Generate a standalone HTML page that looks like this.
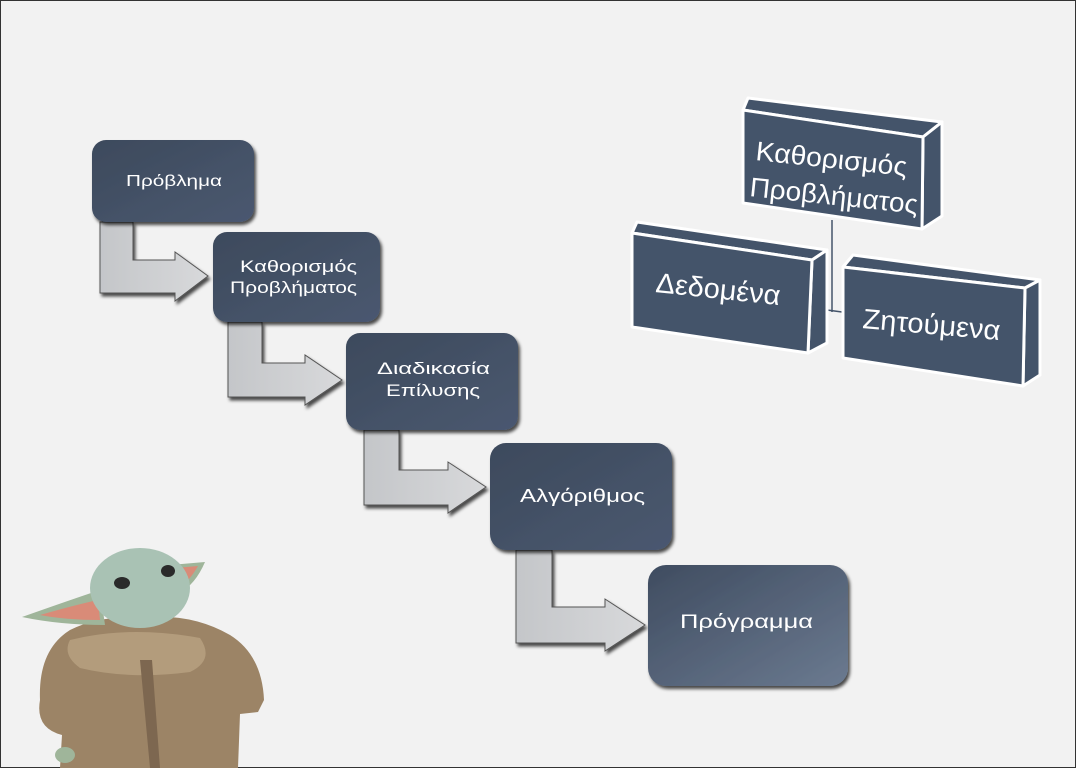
<!DOCTYPE html>
<html><head><meta charset="utf-8"><style>
html,body{margin:0;padding:0;background:#f2f2f2}
svg{display:block}
text{font-family:"Liberation Sans","DejaVu Sans",sans-serif;fill:#fff}
</style></head><body>
<svg width="1076" height="768" viewBox="0 0 1076 768" xmlns="http://www.w3.org/2000/svg">
<defs>
<linearGradient id="bx" x1="0" y1="0" x2="1" y2="1"><stop offset="0" stop-color="#3d4a5c"/><stop offset="1" stop-color="#4a5870"/></linearGradient>
<linearGradient id="bx2" x1="0" y1="0" x2="1" y2="1"><stop offset="0" stop-color="#3f4c60"/><stop offset="1" stop-color="#6b7a90"/></linearGradient>
<linearGradient id="ar" x1="0" y1="0" x2="1" y2="0"><stop offset="0" stop-color="#c4c6c9"/><stop offset="1" stop-color="#d8d9db"/></linearGradient>
<filter id="sh" x="-10%" y="-10%" width="130%" height="130%"><feDropShadow dx="2" dy="3" stdDeviation="1.5" flood-color="#000" flood-opacity="0.7"/></filter>
</defs>
<rect x="0.5" y="0.5" width="1075" height="767" fill="#f2f2f2" stroke="#333" stroke-width="1"/>

<g fill="url(#ar)" stroke="#555" stroke-width="1" filter="url(#sh)">
<path d="M100 222 H133 V260 H175 V252 L208 276 L175 301 V293 H100 Z"/>
<path d="M228 322 H262 V363 H305 V355 L342 380 L305 405 V397 H228 Z"/>
<path d="M364 430 H399 V470 H448 V462 L486 487 L448 513 V505 H364 Z"/>
<path d="M516 550 H552 V607 H605 V599 L645 625 L605 651 V643 H516 Z"/>
</g>

<g filter="url(#sh)">
<rect x="92" y="140" width="162" height="82" rx="14" fill="url(#bx)"/>
<rect x="213" y="232" width="167" height="90" rx="14" fill="url(#bx)"/>
<rect x="346" y="333" width="172" height="97" rx="14" fill="url(#bx)"/>
<rect x="490" y="443" width="182" height="107" rx="16" fill="url(#bx)"/>
<rect x="648" y="565" width="200" height="121" rx="18" fill="url(#bx2)"/>
</g>
<g lengthAdjust="spacingAndGlyphs">
<text x="126" y="186" font-size="16" textLength="96" lengthAdjust="spacingAndGlyphs">Πρόβλημα</text>
<text x="240" y="272" font-size="17" textLength="117" lengthAdjust="spacingAndGlyphs">Καθορισμός</text>
<text x="230" y="293" font-size="17" textLength="127" lengthAdjust="spacingAndGlyphs">Προβλήματος</text>
<text x="377" y="374" font-size="17" textLength="113" lengthAdjust="spacingAndGlyphs">Διαδικασία</text>
<text x="386" y="396" font-size="17" textLength="94" lengthAdjust="spacingAndGlyphs">Επίλυσης</text>
<text x="520" y="502" font-size="18" textLength="125" lengthAdjust="spacingAndGlyphs">Αλγόριθμος</text>
<text x="680" y="628" font-size="19" textLength="133" lengthAdjust="spacingAndGlyphs">Πρόγραμμα</text>
</g>

<g stroke="#44546a" stroke-width="1.5" fill="none">
<path d="M832 220 V312"/>
<path d="M812 308 L842 312"/>
</g>

<g fill="#44546a" stroke="#fff" stroke-width="3" stroke-linejoin="round">
<path d="M743 110 L748 98 L942 122 L923 137 Z"/>
<path d="M923 137 L942 122 L942 216 L922 229 Z"/>
<path d="M743 110 L923 137 L922 229 L743 203 Z"/>
<path d="M632 233 L637 222 L827 250 L812 260 Z"/>
<path d="M812 260 L827 250 L827 343 L808 353 Z"/>
<path d="M632 233 L812 260 L808 353 L632 327 Z"/>
<path d="M843 267 L853 255 L1040 280 L1025 288 Z"/>
<path d="M1025 288 L1040 280 L1040 375 L1023 386 Z"/>
<path d="M843 267 L1025 288 L1023 386 L843 358 Z"/>
</g>
<text x="755" y="160" font-size="27" textLength="152" lengthAdjust="spacingAndGlyphs" transform="rotate(6 755 160)">Καθορισμός</text>
<text x="749" y="196" font-size="27" textLength="169" lengthAdjust="spacingAndGlyphs" transform="rotate(6 749 196)">Προβλήματος</text>
<text x="655" y="292" font-size="28" textLength="125" lengthAdjust="spacingAndGlyphs" transform="rotate(6 655 292)">Δεδομένα</text>
<text x="862" y="328" font-size="28" textLength="138" lengthAdjust="spacingAndGlyphs" transform="rotate(5 862 328)">Ζητούμενα</text>

<g>
<path d="M40 700 Q38 650 70 630 Q100 615 140 618 Q190 612 230 635 Q262 655 264 700 L258 712 L240 714 L238 768 L60 768 L62 735 Q35 728 40 700 Z" fill="#9c8466"/>
<path d="M70 640 Q130 625 200 638 Q215 660 190 672 Q130 680 80 668 Q62 655 70 640 Z" fill="#b39c7c"/>
<path d="M140 660 L150 768 L160 768 L152 660 Z" fill="#7d6750"/>
<path d="M22 617 Q70 600 100 590 L105 625 Q60 625 22 617 Z" fill="#9fb59a"/>
<path d="M40 615 Q75 605 98 600 L100 620 Q65 620 40 615 Z" fill="#d98b78"/>
<path d="M170 565 L205 562 Q195 585 180 592 Z" fill="#9fb59a"/>
<path d="M175 568 L198 566 Q190 580 182 585 Z" fill="#d98b78"/>
<ellipse cx="140" cy="588" rx="50" ry="40" fill="#a9c2b4"/>
<ellipse cx="122" cy="583" rx="8" ry="6" fill="#2a2a2a"/>
<ellipse cx="168" cy="571" rx="7" ry="6" fill="#2a2a2a"/>
<ellipse cx="65" cy="755" rx="10" ry="8" fill="#9fb59a"/>
</g>
</svg>
</body></html>
